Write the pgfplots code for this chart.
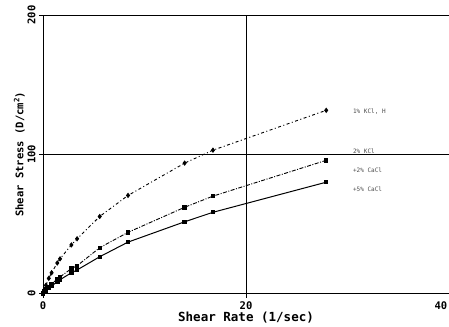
\documentclass[border=0pt]{standalone}
\usepackage{fontspec}
\setmainfont{DejaVu Sans}
\setmonofont{DejaVu Sans Mono}
\usepackage{pgfplots}
\pgfplotsset{compat=1.18}
\begin{document}
\begin{tikzpicture}[trim axis right]
\begin{axis}[
  scale only axis,
  width=405pt, height=278pt,
  xmin=0, xmax=40, ymin=0, ymax=200,
  xtick={0,20,40}, ytick={0,100,200},
  xticklabels={0,20,\llap{40\,}},
  grid=major,
  major grid style={black, line width=0.8pt},
  axis line style={black, line width=0.8pt},
  tick align=outside,
  major tick length=4pt,
  tick style={black, line width=0.8pt},
  xtick pos=bottom, ytick pos=left,
  ticklabel style={font=\ttfamily\bfseries\fontsize{10.5}{12}\selectfont},
  /pgf/number format/assume math mode=true,
  yticklabel style={rotate=90, anchor=south},
  xlabel={Shear Rate (1/sec)},
  ylabel={Shear Stress (D/cm\textsuperscript{2})},
  xlabel style={font=\ttfamily\bfseries\fontsize{12.5}{14}\selectfont, yshift=4pt},
  ylabel style={font=\ttfamily\bfseries\fontsize{10.5}{12}\selectfont, yshift=-4pt},
  clip=false,
]
% top curve
\addplot[black, line width=0.9pt, dash pattern=on 3pt off 2.5pt on 1pt off 2.5pt,
  mark=diamond*, mark size=2pt, mark options={solid}] coordinates {
  (0,0) (0.14,3) (0.28,6) (0.56,11) (0.84,15) (1.40,22) (1.67,25) (2.79,35) (3.35,39.4)
  (5.58,55.4) (8.37,70.5) (13.95,93.7) (16.74,103) (27.9,131.6)};
% middle curve
\addplot[black, line width=0.9pt, dash pattern=on 4pt off 1.5pt on 1pt off 1.5pt,
  mark=square*, mark size=1.7pt, mark options={solid}] coordinates {
  (0,0) (0.14,1.5) (0.28,3) (0.56,5) (0.84,7) (1.40,10.5) (1.67,12) (2.79,18) (3.35,20)
  (5.58,33) (8.37,44) (13.95,62) (16.74,70) (27.9,95.7)};
% bottom curve
\addplot[black, line width=1pt,
  mark=square*, mark size=1.7pt] coordinates {
  (0,0) (0.14,1) (0.28,2) (0.56,4) (0.84,5.5) (1.40,8.5) (1.67,10) (2.79,15) (3.35,17)
  (5.58,26.5) (8.37,37) (13.95,51.6) (16.74,58.4) (27.9,80)};
\begin{scope}[every node/.style={anchor=west, font=\ttfamily\fontsize{6}{7}\selectfont, text=black!70}]
\node at (axis cs:30.2,131) {1\% KCl, H};
\node at (axis cs:30.2,102.5) {2\% KCl};
\node at (axis cs:30.2,88.5) {+2\% CaCl};
\node at (axis cs:30.2,75) {+5\% CaCl};
\end{scope}
\path (rel axis cs:0,0.5) ++(-43pt,0) coordinate (padL);
\path (padL) -- (rel axis cs:0,0.5);
\path (rel axis cs:0,1) ++(0,15pt) coordinate (padT);
\path (padT) -- (rel axis cs:0,1);
\end{axis}
\end{tikzpicture}
\end{document}
